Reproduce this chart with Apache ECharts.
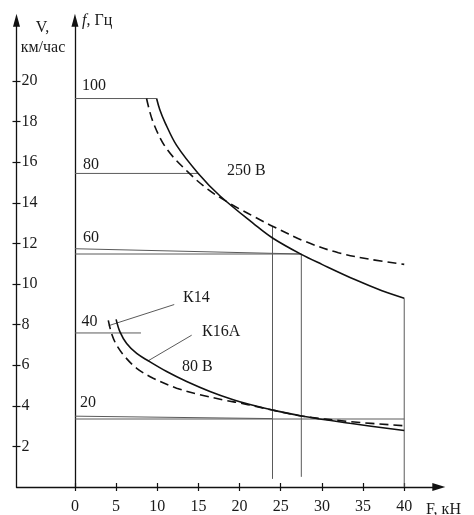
<!DOCTYPE html>
<html>
<head>
<meta charset="utf-8">
<script src="https://cdn.jsdelivr.net/npm/echarts@6/dist/echarts.min.js"></script>
<style>
html,body{margin:0;padding:0;background:#fff;}
#chart{width:474px;height:515px;}
</style>
</head>
<body>
<div id="chart"></div>
<script>
// ---- data (F in kN, V in km/h) ----
const xTicks = [0, 5, 10, 15, 20, 25, 30, 35, 40];
const vTicks = [2, 4, 6, 8, 10, 12, 14, 16, 18, 20];

const curve250Solid = [[9.92,19.14],[10.3,18.6],[10.93,17.97],[12.35,16.83],[14.98,15.45],[17.6,14.35],[21.87,12.92],[24,12.27],[27.5,11.46],[30,10.97],[34,10.22],[37.3,9.67],[40,9.3]];
const curve250Dashed = [[8.7,19.14],[9.5,17.97],[11.13,16.67],[13.9,15.45],[16.2,14.65],[18.2,14.12],[20,13.7],[21.87,13.3],[24,12.85],[27.9,12.11],[32,11.54],[36,11.21],[40,10.97]];
const curve80K16A = [[5.0,8.26],[5.47,7.64],[6.28,7.07],[7.5,6.58],[8.9,6.22],[11.14,5.69],[13.57,5.2],[16.4,4.71],[19.23,4.3],[21.26,4.06],[24,3.79],[27.5,3.5],[33.4,3.14],[40,2.78]];
const curve80K14 = [[4.05,8.21],[4.46,7.55],[5.06,6.99],[6.07,6.42],[7.5,5.85],[9.5,5.36],[12.35,4.87],[15.18,4.55],[18.4,4.26],[20,4.14],[22,3.97],[24,3.79],[27.5,3.5],[33.4,3.22],[40,3.02]];

const line100 = [[0,19.14],[9.92,19.14]];
const line80 = [[0,15.45],[14.98,15.45]];
const line60a = [[0,11.74],[27.5,11.48]];
const line60b = [[0,11.48],[27.5,11.48]];
const line40 = [[0,7.59],[8.02,7.59]];
const line20a = [[0,3.49],[24,3.37]];
const line20b = [[0,3.35],[40,3.35]];
const vert24 = [[24,0.4],[24,12.85]];
const vert275 = [[27.5,0.5],[27.5,11.46]];
const vert40 = [[40,0],[40,9.3]];
const leaderK14 = [[12.06,8.99],[4.1,7.95]];
const leaderK16A = [[14.18,7.48],[8.9,6.22]];

const fLabels = ['100', '80', '60', '40', '20'];
const curveLabels = ['250 В', 'К14', 'К16А', '80 В'];

// ---- chart ----
const FONT = 'Liberation Serif';
const TXT = '#1a1a1a';
const chart = echarts.init(document.getElementById('chart'), null, {renderer: 'canvas'});

function thin(data) {
  return {type: 'line', data: data, showSymbol: false, silent: true, animation: false,
    lineStyle: {color: '#5a5a5a', width: 1}, z: 2};
}
function curve(data, dashed) {
  return {type: 'line', data: data, showSymbol: false, silent: true, animation: false, smooth: 0.35,
    lineStyle: {color: '#111', width: 1.6, type: dashed ? [9, 5] : 'solid'}, z: 3};
}

const axisColor = '#111';
const option = {
  animation: false,
  backgroundColor: '#fff',
  grid: {left: 16.5, right: 35.2, top: 20.2, bottom: 23.5, containLabel: false},
  xAxis: [
    {type: 'value', min: -7.1, max: 44.2, position: 'bottom',
      axisLine: {show: true, onZero: true, symbol: ['none', 'triangle'], symbolSize: [8, 13],
        lineStyle: {color: axisColor, width: 1.3}},
      axisTick: {show: true, customValues: xTicks, length: 4, lineStyle: {color: axisColor, width: 1.2}},
      axisLabel: {show: true, customValues: xTicks, margin: 12, fontSize: 16, fontFamily: FONT, color: TXT},
      splitLine: {show: false}},
    {type: 'value', min: -7.1, max: 44.2, position: 'bottom',
      axisLine: {show: false},
      axisTick: {show: true, inside: true, customValues: xTicks, length: 4, lineStyle: {color: axisColor, width: 1.2}},
      axisLabel: {show: false}, splitLine: {show: false}}
  ],
  yAxis: [
    {type: 'value', min: 0, max: 23, position: 'left',
      axisLine: {show: true, onZero: false, symbol: ['none', 'triangle'], symbolSize: [7, 13],
        lineStyle: {color: axisColor, width: 1.3}},
      axisTick: {show: true, customValues: vTicks, length: 4, lineStyle: {color: axisColor, width: 1.2}},
      axisLabel: {show: true, inside: true, customValues: vTicks, margin: 5, fontSize: 16, fontFamily: FONT, color: TXT},
      splitLine: {show: false}},
    {type: 'value', min: 0, max: 23, position: 'left',
      axisLine: {show: false, onZero: false},
      axisTick: {show: true, inside: true, customValues: vTicks, length: 4, lineStyle: {color: axisColor, width: 1.2}},
      axisLabel: {show: false}, splitLine: {show: false}},
    {type: 'value', min: 0, max: 23, position: 'left',
      axisLine: {show: true, onZero: true, onZeroAxisIndex: 0, symbol: ['none', 'triangle'], symbolSize: [7, 13],
        lineStyle: {color: axisColor, width: 1.3}},
      axisTick: {show: false}, axisLabel: {show: false}, splitLine: {show: false}}
  ],
  series: [
    thin(line100), thin(line80), thin(line60a), thin(line60b), thin(line40), thin(line20a), thin(line20b),
    thin(vert24), thin(vert275), thin(vert40), thin(leaderK14), thin(leaderK16A),
    curve(curve250Solid, false), curve(curve250Dashed, true),
    curve(curve80K16A, false), curve(curve80K14, true)
  ]
};
chart.setOption(option);

const ts = (extra) => Object.assign({fontFamily: FONT, fontSize: 16, fill: TXT, textVerticalAlign: 'middle'}, extra);
chart.setOption({
  graphic: [
    {type: 'text', x: 42.5, y: 28, style: ts({text: 'V,', textAlign: 'center'})},
    {type: 'text', x: 43, y: 48, style: ts({text: 'км/час', textAlign: 'center'})},
    {type: 'text', x: 82, y: 21, style: ts({text: '{i|f}, Гц', textAlign: 'left', rich: {i: {fontStyle: 'italic', fontFamily: FONT, fontSize: 16}}})},
    {type: 'text', x: 426, y: 510, style: ts({text: 'F, кН', textAlign: 'left'})},
    {type: 'text', x: 82, y: 86, style: ts({text: fLabels[0], textAlign: 'left'})},
    {type: 'text', x: 83, y: 165, style: ts({text: fLabels[1], textAlign: 'left'})},
    {type: 'text', x: 83, y: 238, style: ts({text: fLabels[2], textAlign: 'left'})},
    {type: 'text', x: 81.5, y: 322, style: ts({text: fLabels[3], textAlign: 'left'})},
    {type: 'text', x: 80, y: 403, style: ts({text: fLabels[4], textAlign: 'left'})},
    {type: 'text', x: 227, y: 171, style: ts({text: curveLabels[0], textAlign: 'left'})},
    {type: 'text', x: 183, y: 298, style: ts({text: curveLabels[1], textAlign: 'left'})},
    {type: 'text', x: 202, y: 332, style: ts({text: curveLabels[2], textAlign: 'left'})},
    {type: 'text', x: 182, y: 367, style: ts({text: curveLabels[3], textAlign: 'left'})}
  ]
});
</script>
</body>
</html>
